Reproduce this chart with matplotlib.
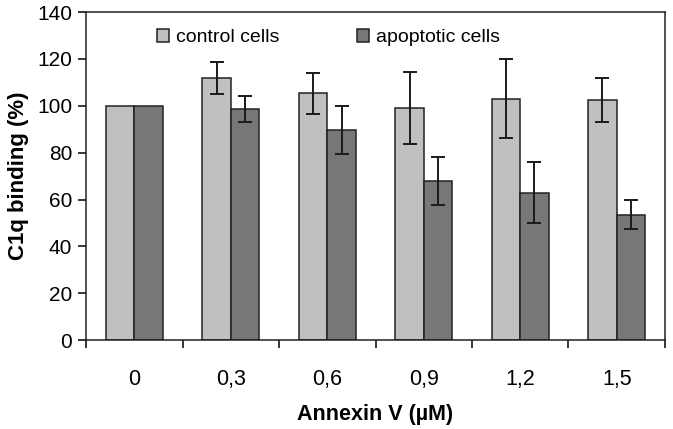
import numpy as np
import matplotlib.pyplot as plt

plt.rcParams['font.family'] = ['Liberation Sans', 'DejaVu Sans']

doses = ['0', '0,3', '0,6', '0,9', '1,2', '1,5']
control = [100, 111.8, 105.4, 99.2, 103.0, 102.4]
control_err = [0, 6.8, 8.7, 15.4, 16.9, 9.3]
apoptotic = [100, 98.6, 89.6, 67.9, 62.9, 53.6]
apoptotic_err = [0, 5.7, 10.2, 10.3, 13.1, 6.0]

fig = plt.figure(figsize=(6.73, 4.29), dpi=100)
ax = fig.add_axes([0.128, 0.207, 0.860, 0.765])

x = np.arange(len(doses))
w = 0.295
errkw = dict(ecolor='#1a1a1a', elinewidth=1.4, capsize=5, capthick=1.4)
ax.bar(x - w / 2, control, w, color='#c0c0c0', edgecolor='#222222', linewidth=1.1,
       label='control cells')
ax.bar(x + w / 2, apoptotic, w, color='#777777', edgecolor='#222222', linewidth=1.1,
       label='apoptotic cells')
ax.errorbar(x[1:] - w / 2, control[1:], yerr=control_err[1:], fmt='none', **errkw)
ax.errorbar(x[1:] + w / 2, apoptotic[1:], yerr=apoptotic_err[1:], fmt='none', **errkw)

ax.set_xlim(-0.5, len(doses) - 0.5)
ax.set_ylim(0, 140)
ax.set_yticks(range(0, 141, 20))
ax.set_xticks(x)
ax.set_xticklabels(doses)
ax.set_xticks(np.arange(-0.5, len(doses), 1), minor=True)
ax.tick_params(axis='x', which='major', length=0, pad=21, labelsize=15.5)
ax.tick_params(axis='x', which='minor', length=6, width=1.1, direction='out')
ax.tick_params(axis='y', length=6, width=1.1, direction='out', pad=4, labelsize=15)
for s in ax.spines.values():
    s.set_linewidth(1.1)
    s.set_color('#222222')

ax.set_ylabel('C1q binding (%)', fontsize=16, fontweight='bold', labelpad=6)
ax.set_xlabel('Annexin V (\u00b5M)', fontsize=15.5, fontweight='bold', labelpad=10)

ax.legend(loc='upper left', bbox_to_anchor=(0.122, 0.948), ncol=2, frameon=False,
          fontsize=14, handlelength=0.62, handleheight=0.62, handletextpad=0.35,
          columnspacing=4.0, borderpad=0, borderaxespad=0)

fig.savefig('out.png', dpi=100)
